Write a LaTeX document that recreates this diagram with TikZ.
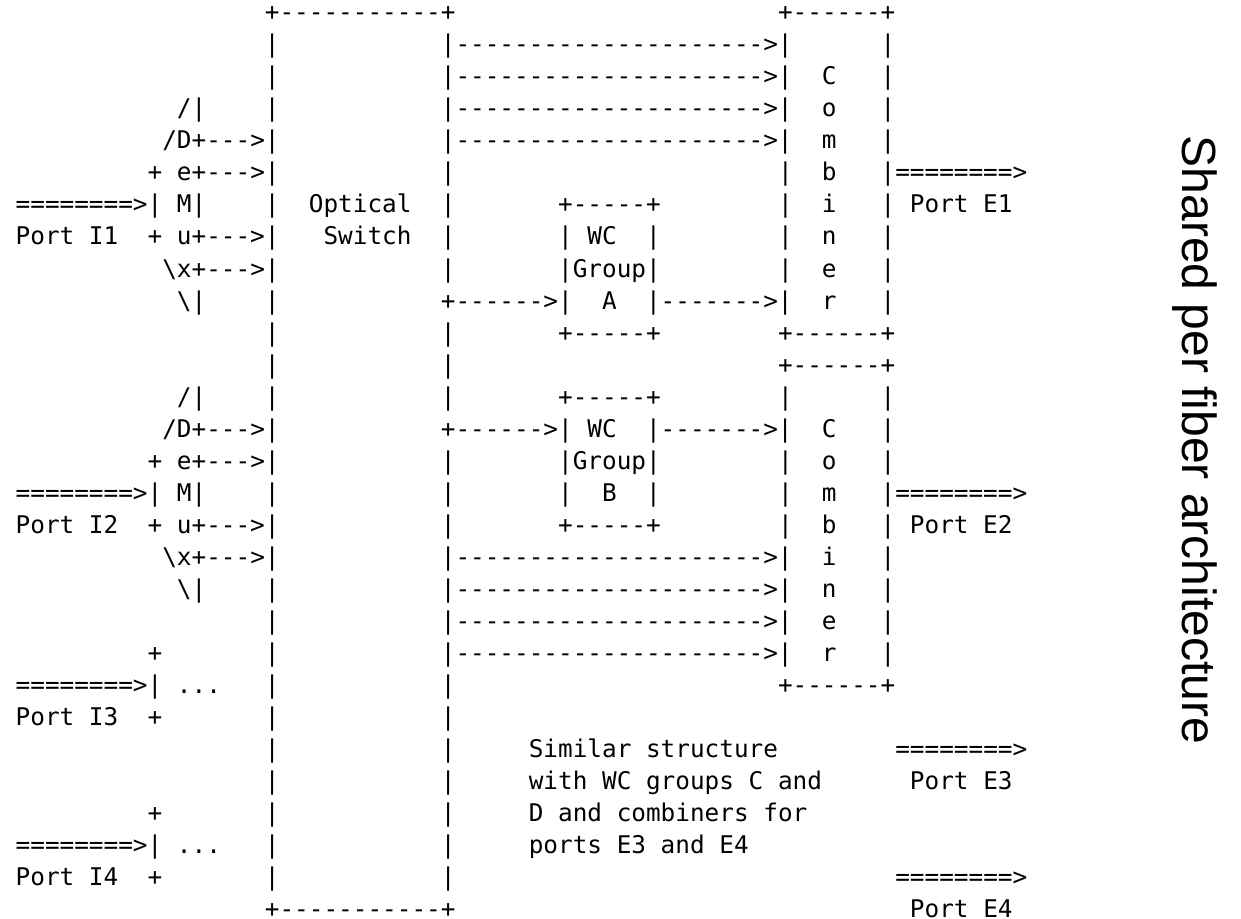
\documentclass[tikz,border=0pt]{standalone}
\usepackage{fontspec}
\setmainfont{Liberation Sans}
\setmonofont{DejaVu Sans Mono}
\usepackage{tikz}
\frenchspacing
% one column of the character grid
\newlength{\cw}
\setlength{\cw}{7.33pt}
\newcommand{\sk}[1]{\hspace*{#1\cw}}
\newcommand{\feed}{|---------------------{}>|}

\begin{document}
\begin{tikzpicture}[x=7.33pt, y=-16.02pt,
    asc/.style={anchor=base west, inner sep=0pt, outer sep=0pt, text depth=0pt, font=\ttfamily\fontsize{12.175pt}{16pt}\selectfont},
    caption/.style={rotate=-90, inner sep=0pt, font=\fontsize{24pt}{28pt}\selectfont}
]
\useasboundingbox (-7.85pt,-465.17pt) rectangle (612.65pt,-5.67pt);

% Switch top and first combiner
\node[asc] (r1) at (17,1) {+-----------+\sk{22}+------+};
\node[asc] (r2) at (17,2) {|\sk{11}\feed\sk{6}|};
\node[asc] (r3) at (17,3) {|\sk{11}\feed\sk{2}C\sk{3}|};

% Demux for port I1
\node[asc] (r4) at (11,4) {/|\sk{4}|\sk{11}\feed\sk{2}o\sk{3}|};
\node[asc] (r5) at (10,5) {/D+--->|\sk{11}\feed\sk{2}m\sk{3}|};
\node[asc] (r6) at (9,6) {+ e+--->|\sk{11}|\sk{22}|\sk{2}b\sk{3}|========>};
\node[asc] (r7) at (0,7) {========>| M|\sk{4}|\sk{2}Optical\sk{2}|\sk{7}+-----+\sk{8}|\sk{2}i\sk{3}| Port E1};
\node[asc] (r8) at (0,8) {Port I1\sk{2}+ u+--->|\sk{3}Switch\sk{2}|\sk{7}| WC\sk{2}|\sk{8}|\sk{2}n\sk{3}|};
\node[asc] (r9) at (10,9) {\textbackslash x+--->|\sk{11}|\sk{7}|Group|\sk{8}|\sk{2}e\sk{3}|};
\node[asc] (r10) at (11,10) {\textbackslash|\sk{4}|\sk{11}+------>|\sk{2}A\sk{2}|------->|\sk{2}r\sk{3}|};
\node[asc] (r11) at (17,11) {|\sk{11}|\sk{7}+-----+\sk{8}+------+};
\node[asc] (r12) at (17,12) {|\sk{11}|\sk{22}+------+};

% Demux for port I2
\node[asc] (r13) at (11,13) {/|\sk{4}|\sk{11}|\sk{7}+-----+\sk{8}|\sk{6}|};
\node[asc] (r14) at (10,14) {/D+--->|\sk{11}+------>| WC\sk{2}|------->|\sk{2}C\sk{3}|};
\node[asc] (r15) at (9,15) {+ e+--->|\sk{11}|\sk{7}|Group|\sk{8}|\sk{2}o\sk{3}|};
\node[asc] (r16) at (0,16) {========>| M|\sk{4}|\sk{11}|\sk{7}|\sk{2}B\sk{2}|\sk{8}|\sk{2}m\sk{3}|========>};
\node[asc] (r17) at (0,17) {Port I2\sk{2}+ u+--->|\sk{11}|\sk{7}+-----+\sk{8}|\sk{2}b\sk{3}| Port E2};
\node[asc] (r18) at (10,18) {\textbackslash x+--->|\sk{11}\feed\sk{2}i\sk{3}|};
\node[asc] (r19) at (11,19) {\textbackslash|\sk{4}|\sk{11}\feed\sk{2}n\sk{3}|};
\node[asc] (r20) at (17,20) {|\sk{11}\feed\sk{2}e\sk{3}|};
\node[asc] (r21) at (9,21) {+\sk{7}|\sk{11}\feed\sk{2}r\sk{3}|};

% Ports I3, I4 and the note
\node[asc] (r22) at (0,22) {========>| ...\sk{3}|\sk{11}|\sk{22}+------+};
\node[asc] (r23) at (0,23) {Port I3\sk{2}+\sk{7}|\sk{11}|};
\node[asc] (r24) at (17,24) {|\sk{11}|\sk{5}Similar structure\sk{8}========>};
\node[asc] (r25) at (17,25) {|\sk{11}|\sk{5}with WC groups C and\sk{6}Port E3};
\node[asc] (r26) at (9,26) {+\sk{7}|\sk{11}|\sk{5}D and combiners for};
\node[asc] (r27) at (0,27) {========>| ...\sk{3}|\sk{11}|\sk{5}ports E3 and E4};
\node[asc] (r28) at (0,28) {Port I4\sk{2}+\sk{7}|\sk{11}|\sk{30}========>};
\node[asc] (r29) at (17,29) {+-----------+\sk{31}Port E4};

% Side label
\node[caption] (title) at (589.65pt,-225.67pt) {Shared per fiber architecture};
\end{tikzpicture}
\end{document}
